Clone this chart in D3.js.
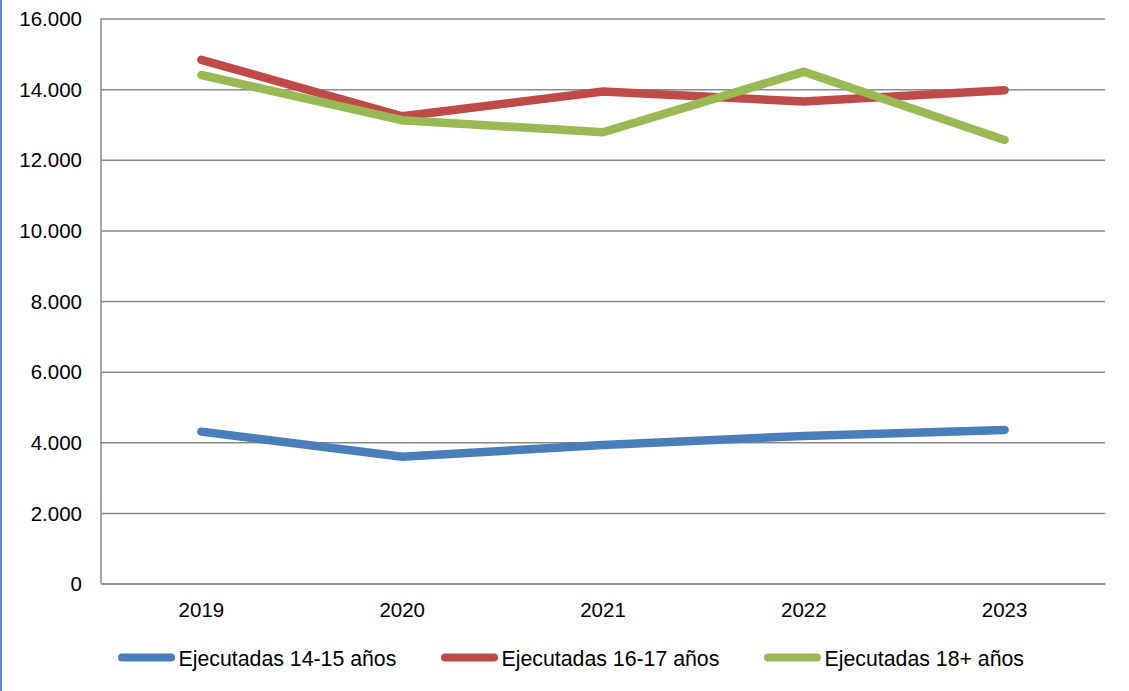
<!DOCTYPE html>
<html>
<head>
<meta charset="utf-8">
<script src="https://cdn.jsdelivr.net/npm/d3@7"></script>
<style>
  html, body { margin: 0; padding: 0; background: #fff; }
  svg { display: block; font-family: "Liberation Sans", Arial, sans-serif; }
</style>
</head>
<body>
<svg id="chart" width="1129" height="691"></svg>
<script>
const years = ["2019", "2020", "2021", "2022", "2023"];
const seriesNames = ["Ejecutadas 14-15 años", "Ejecutadas 16-17 años", "Ejecutadas 18+ años"];
const values1415 = [4300, 3590, 3920, 4180, 4350];
const values1617 = [14830, 13230, 13930, 13650, 13970];
const values18 = [14400, 13120, 12780, 14490, 12560];
const yTicks = [0, 2000, 4000, 6000, 8000, 10000, 12000, 14000, 16000];
const colors = ["#4a7ebb", "#be4b48", "#98b954"];

const series = [values1415, values1617, values18];

const svg = d3.select("#chart");
const plotLeft = 101, plotRight = 1105, plotTop = 18.5, plotBottom = 583.5;

const x = d3.scaleBand().domain(years).range([plotLeft, plotRight]);
const y = d3.scaleLinear().domain([0, 16000]).range([plotBottom, plotTop]);
const loc = d3.formatLocale({decimal: ",", thousands: ".", grouping: [3], currency: ["", ""]});
const fmt = loc.format(",d");

// left page border
svg.append("line").attr("x1", 1).attr("x2", 1).attr("y1", 0).attr("y2", 691)
  .attr("stroke", "#5b8cc8").attr("stroke-width", 2);

// gridlines + y axis
const yAxis = d3.axisLeft(y).tickValues(yTicks).tickSize(-(plotRight - plotLeft)).tickFormat(fmt).tickPadding(20);
const gy = svg.append("g").attr("transform", `translate(${plotLeft},0)`).call(yAxis);
gy.select(".domain").remove();
gy.selectAll(".tick line").attr("stroke", "#8a8a8a").attr("stroke-width", 1.5);
gy.selectAll(".tick text").attr("fill", "#000").style("font-size", "20.5px")
  .attr("x", -19).attr("dy", "0.35em");

// left axis line
svg.append("line").attr("x1", plotLeft).attr("x2", plotLeft).attr("y1", plotTop).attr("y2", plotBottom)
  .attr("stroke", "#8a8a8a").attr("stroke-width", 1.5);

// x axis labels
const xAxis = d3.axisBottom(x).tickSize(0).tickPadding(0);
const gx = svg.append("g").attr("transform", `translate(0,${plotBottom})`).call(xAxis);
gx.select(".domain").attr("stroke", "#8a8a8a").attr("stroke-width", 1.5);
gx.selectAll(".tick text").attr("fill", "#000").style("font-size", "20.5px").attr("y", 33.5).attr("dy", 0);

// lines
const line = d3.line().x((d, i) => x(years[i]) + x.bandwidth() / 2).y(d => y(d));
series.forEach((vals, k) => {
  svg.append("path").datum(vals).attr("d", line)
    .attr("fill", "none").attr("stroke", colors[k]).attr("stroke-width", 8.5)
    .attr("stroke-linecap", "round").attr("stroke-linejoin", "miter");
});

// legend
const legendX = [118, 441, 764];
const legendY = 657.5;
seriesNames.forEach((name, k) => {
  const g = svg.append("g");
  g.append("line").attr("x1", legendX[k] + 4).attr("x2", legendX[k] + 53)
    .attr("y1", legendY).attr("y2", legendY)
    .attr("stroke", colors[k]).attr("stroke-width", 8).attr("stroke-linecap", "round");
  g.append("text").attr("x", legendX[k] + 60.5).attr("y", 665.5)
    .style("font-size", "21.3px").attr("fill", "#000").text(name);
});
</script>
</body>
</html>
